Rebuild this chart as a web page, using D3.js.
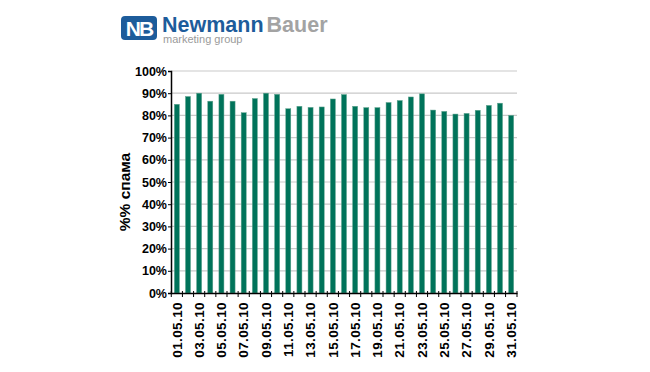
<!DOCTYPE html>
<html>
<head>
<meta charset="utf-8">
<script src="https://cdn.jsdelivr.net/npm/d3@7"></script>
<style>
  body { margin: 0; background: #fff; }
  svg { display: block; font-family: "Liberation Sans", Arial, sans-serif; }
</style>
</head>
<body>
<div id="chart"></div>
<script>
// daily spam share, May 2010
var days = ["01.05.10","02.05.10","03.05.10","04.05.10","05.05.10","06.05.10","07.05.10","08.05.10",
            "09.05.10","10.05.10","11.05.10","12.05.10","13.05.10","14.05.10","15.05.10","16.05.10",
            "17.05.10","18.05.10","19.05.10","20.05.10","21.05.10","22.05.10","23.05.10","24.05.10",
            "25.05.10","26.05.10","27.05.10","28.05.10","29.05.10","30.05.10","31.05.10"];
var spam = [0.850, 0.885, 0.900, 0.864, 0.895, 0.864, 0.812, 0.876,
            0.900, 0.895, 0.830, 0.841, 0.836, 0.838, 0.874, 0.894,
            0.841, 0.835, 0.835, 0.858, 0.867, 0.883, 0.897, 0.824,
            0.818, 0.806, 0.809, 0.823, 0.845, 0.855, 0.800];
var yTicks = [0, 0.1, 0.2, 0.3, 0.4, 0.5, 0.6, 0.7, 0.8, 0.9, 1.0];
var labelDays = days.filter(function(d, i) { return i % 2 === 0; });

var width = 650, height = 372;
var plotLeft = 171, plotRight = 517, plotTop = 71, plotBottom = 293;

var svg = d3.select("#chart").append("svg")
    .attr("width", width)
    .attr("height", height);

// logo
var logo = svg.append("g");
logo.append("rect")
    .attr("x", 121).attr("y", 16).attr("width", 36).attr("height", 24)
    .attr("rx", 4).attr("fill", "#1d5c9b");
logo.append("text")
    .attr("x", 139).attr("y", 36)
    .attr("text-anchor", "middle")
    .attr("fill", "#fff")
    .style("font-size", "21px").style("font-weight", "bold")
    .style("letter-spacing", "-2px")
    .text("NB");
logo.append("text")
    .attr("x", 162).attr("y", 32)
    .style("font-size", "21.5px").style("font-weight", "bold")
    .call(function(t) {
        t.append("tspan").attr("fill", "#1d5c9b").text("Newmann");
        t.append("tspan").attr("fill", "#a3a3a3").attr("dx", 3).text("Bauer");
    });
logo.append("text")
    .attr("x", 163).attr("y", 43)
    .attr("fill", "#9a9a9a")
    .style("font-size", "11px")
    .text("marketing group");

var x = d3.scaleBand()
    .domain(days)
    .range([plotLeft, plotRight])
    .paddingInner(0.55)
    .paddingOuter(0.3);

var y = d3.scaleLinear()
    .domain([0, 1])
    .range([plotBottom, plotTop]);

// gridlines
svg.append("g")
    .selectAll("line")
    .data(yTicks.filter(function(d) { return d > 0; }))
    .enter().append("line")
    .attr("x1", plotLeft).attr("x2", plotRight)
    .attr("y1", function(d) { return y(d); })
    .attr("y2", function(d) { return y(d); })
    .attr("stroke", "#c9c9c9")
    .attr("stroke-width", 1.2);

// bars
svg.append("g")
    .selectAll("rect")
    .data(spam)
    .enter().append("rect")
    .attr("x", function(d, i) { return x(days[i]); })
    .attr("y", function(d) { return y(d); })
    .attr("width", x.bandwidth())
    .attr("height", function(d) { return y(0) - y(d); })
    .attr("fill", "#00735a")
    .attr("stroke", "#5fa38e")
    .attr("stroke-width", 0.5);

// y axis
var yAxis = svg.append("g")
    .attr("transform", "translate(" + plotLeft + ",0)")
    .call(d3.axisLeft(y).tickValues(yTicks).tickSize(3).tickPadding(1)
        .tickFormat(function(d) { return Math.round(d * 100) + "%"; }));
yAxis.select(".domain").attr("stroke", "#000").attr("stroke-width", 1.5);
yAxis.selectAll("line").attr("stroke", "#000");
yAxis.selectAll("text")
    .attr("fill", "#000")
    .style("font-size", "12.5px").style("font-weight", "bold")
    .style("font-family", "Liberation Sans, Arial, sans-serif");

// x axis: boundary ticks
var boundaries = days.map(function(d) { return x(d) - x.step() * x.paddingInner() / 2; });
boundaries.push(plotRight);
svg.append("g")
    .selectAll("line")
    .data(boundaries)
    .enter().append("line")
    .attr("x1", function(d) { return d; }).attr("x2", function(d) { return d; })
    .attr("y1", plotBottom - 2).attr("y2", plotBottom + 4)
    .attr("stroke", "#000");

var xAxis = svg.append("g")
    .attr("transform", "translate(0," + plotBottom + ")")
    .call(d3.axisBottom(x).tickValues(labelDays).tickSize(0).tickPadding(0));
xAxis.select(".domain").attr("stroke", "#000").attr("stroke-width", 1.5);
xAxis.selectAll("text")
    .attr("transform", "rotate(-90)")
    .attr("text-anchor", "end")
    .attr("x", -9)
    .attr("y", 0)
    .attr("dy", "0.35em")
    .attr("fill", "#000")
    .style("font-size", "13.5px").style("font-weight", "bold")
    .style("letter-spacing", "0.4px")
    .style("font-family", "Liberation Sans, Arial, sans-serif");

// y title
svg.append("text")
    .attr("transform", "translate(130,192) rotate(-90)")
    .attr("text-anchor", "middle")
    .style("font-size", "15.5px").style("font-weight", "bold")
    .text("%% спама");
</script>
</body>
</html>
